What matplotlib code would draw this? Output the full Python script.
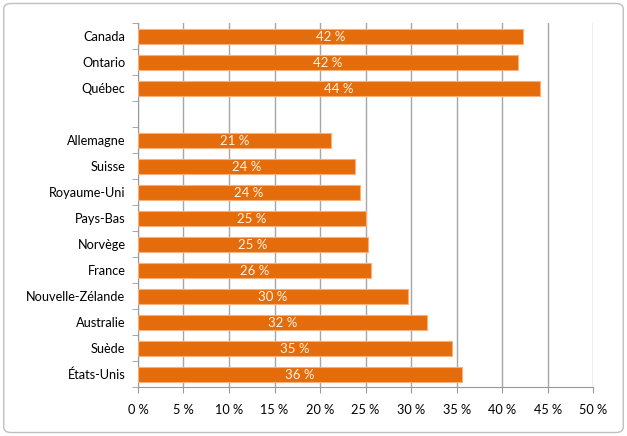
import matplotlib
matplotlib.use("Agg")
import matplotlib.pyplot as plt
from matplotlib.patches import FancyBboxPatch

# Data (bottom to top, empty label = gap row)
countries = ["États-Unis", "Suède", "Australie", "Nouvelle-Zélande", "France",
             "Norvège", "Pays-Bas", "Royaume-Uni", "Suisse", "Allemagne",
             "", "Québec", "Ontario", "Canada"]
values = [35.6, 34.5, 31.8, 29.7, 25.6, 25.3, 25.0, 24.4, 23.8, 21.2,
          None, 44.2, 41.7, 42.3]
bar_labels = ["36 %", "35 %", "32 %", "30 %", "26 %", "25 %", "25 %", "24 %",
              "24 %", "21 %", "", "44 %", "42 %", "42 %"]
xticks = [0, 5, 10, 15, 20, 25, 30, 35, 40, 45, 50]

plt.rcParams['font.family'] = ['Lato', 'DejaVu Sans']

fig = plt.figure(figsize=(6.27, 4.36), dpi=100)
ax = fig.add_axes([0.220, 0.112, 0.726, 0.835])

orange = "#E46C0A"
for i, (v, lab) in enumerate(zip(values, bar_labels)):
    if v is None:
        continue
    ax.barh(i, v, height=0.58, color=orange, edgecolor="#F7B07A", linewidth=0.8, zorder=3)
    ax.text(v / 2, i - 0.05, lab, ha="center", va="center", color="#FFF4E8",
            fontsize=9.5, zorder=4)

ax.set_xlim(0, 50)
ax.set_ylim(-0.5, len(countries) - 0.5)
ax.set_xticks(xticks)
ax.set_xticklabels([f"{t} %" for t in xticks], fontsize=9.2)
ax.set_yticks(range(len(countries)))
ax.set_yticklabels(countries, fontsize=9.2)
ax.set_yticks([i - 0.5 for i in range(len(countries) + 1)], minor=True)
ax.tick_params(axis="y", which="major", length=0, pad=9)
ax.tick_params(axis="y", which="minor", length=4, color="#999999", direction="out")
ax.tick_params(axis="x", length=4, color="#999999", pad=8)

ax.grid(axis="x", color="#A6A6A6", linewidth=1, zorder=0)
for s in ["top", "right"]:
    ax.spines[s].set_visible(False)
for s in ["left", "bottom"]:
    ax.spines[s].set_color("#999999")

border = FancyBboxPatch((0.006, 0.008), 0.988, 0.984, boxstyle="round,pad=0,rounding_size=0.012",
                        transform=fig.transFigure, fill=False, edgecolor="#BFBFBF", linewidth=1)
fig.patches.append(border)

fig.savefig("out.png", dpi=100)
